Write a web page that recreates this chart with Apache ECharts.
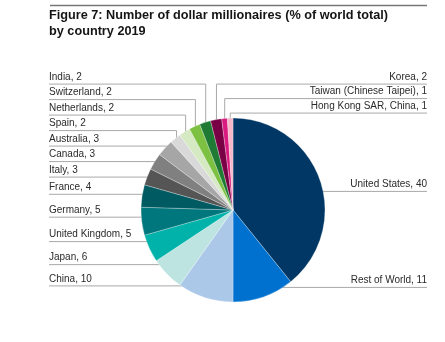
<!DOCTYPE html>
<html>
<head>
<meta charset="utf-8">
<script src="https://cdn.jsdelivr.net/npm/echarts@6/dist/echarts.min.js"></script>
<style>
  html, body { margin: 0; padding: 0; background: #ffffff; }
  #chart { width: 445px; height: 342px; }
</style>
</head>
<body>
<div id="chart"></div>
<script>
// Share of the world's dollar millionaires, 2019 (%), clockwise from 12 o'clock
const countries = [
  'United States', 'Rest of World', 'China', 'Japan', 'United Kingdom',
  'Germany', 'France', 'Italy', 'Canada', 'Australia', 'Spain',
  'Netherlands', 'Switzerland', 'India', 'Korea',
  'Taiwan (Chinese Taipei)', 'Hong Kong SAR, China'
];
const shares = [40, 11, 10, 6, 5, 5, 4, 3, 3, 3, 2, 2, 2, 2, 2, 1, 1];
const sliceColors = [
  '#003764', '#0071ce', '#abc8e8', '#bde4e1', '#00b2a9',
  '#00777c', '#005a62', '#555555', '#808080', '#a6a6a6', '#d9d9d9',
  '#d5e9c3', '#7cc142', '#1f7a34', '#7a0046', '#da1a7f', '#f6b8c9'
];

// Geometry of the pie and the two label columns
const CX = 233, CY = 210, R = 92;
const LEFT_X = 49, RIGHT_X = 427;
const ROW_GAP = 15.5, TOP_GAP = 14.5;

const total = shares.reduce((a, b) => a + b, 0);
const midAngles = [];
let acc = 0;
shares.forEach(v => { midAngles.push((acc + v / 2) / total * 360); acc += v; });

function polar(angleDeg, r) {
  const a = angleDeg * Math.PI / 180;
  return [CX + r * Math.sin(a), CY - r * Math.cos(a)];
}

// Which column each label goes to
const side = midAngles.map(a => a > 345 ? 'rightTop' : (a > 180 ? 'left' : 'right'));
const rows = new Array(shares.length);

// Left column: stack upward from the bottom slice, keeping a minimum gap
const leftIdx = shares.map((_, i) => i).filter(i => side[i] === 'left');
let prev = Infinity;
leftIdx.forEach(i => {
  const target = polar(midAngles[i], 0.9 * R)[1] - 3;
  const y = Math.min(target, prev - ROW_GAP);
  rows[i] = y;
  prev = y;
});
const topRow = Math.min(...leftIdx.map(i => rows[i]));

// Small slices near 12 o'clock: stacked down the right from the top row
shares.map((_, i) => i).filter(i => side[i] === 'rightTop')
  .forEach((i, k) => { rows[i] = topRow + k * TOP_GAP; });

// Big right-hand slices: label sits deeper inside the wider wedges
shares.map((_, i) => i).filter(i => side[i] === 'right')
  .forEach(i => { rows[i] = polar(midAngles[i], R * (1 - shares[i] / total))[1]; });

const pieData = countries.map((name, i) => ({
  name: name,
  value: shares[i],
  itemStyle: { color: sliceColors[i] }
}));

const chart = echarts.init(document.getElementById('chart'), null, { renderer: 'canvas' });

chart.setOption({
  animation: false,
  backgroundColor: '#ffffff',
  title: {
    text: 'Figure 7: Number of dollar millionaires (% of world total)\nby country 2019',
    left: 49,
    top: 7,
    padding: 0,
    textStyle: {
      fontFamily: 'Liberation Sans, Arial, sans-serif',
      fontSize: 12.7,
      fontWeight: 'bold',
      lineHeight: 16,
      color: '#151515'
    }
  },
  graphic: [{
    type: 'line',
    shape: { x1: 50, y1: 5.5, x2: 427, y2: 5.5 },
    style: { stroke: '#777777', lineWidth: 1.3 },
    silent: true
  }],
  series: [{
    type: 'pie',
    center: [CX, CY],
    radius: [0, R],
    startAngle: 90,
    clockwise: true,
    avoidLabelOverlap: false,
    data: pieData,
    itemStyle: { borderColor: 'rgba(255,255,255,0.55)', borderWidth: 0.5 },
    emphasis: { disabled: true },
    label: {
      show: true,
      position: 'outside',
      formatter: p => p.name + ', ' + p.value,
      fontFamily: 'Liberation Sans, Arial, sans-serif',
      fontSize: 10,
      color: '#2a2a2a'
    },
    labelLine: {
      show: true,
      length: 5,
      length2: 5,
      lineStyle: { color: '#a9a9a9', width: 1 }
    },
    labelLayout: function (params) {
      const i = params.dataIndex;
      const row = rows[i];
      const mid = midAngles[i];
      const onLeft = side[i] === 'left';
      const edgeX = onLeft ? LEFT_X : RIGHT_X;
      const edge = polar(mid, R);
      let pts;
      if (side[i] === 'rightTop' || row < edge[1] - 4) {
        // elbow: down from the row into the rim of the slice
        const tip = polar(mid, R - 2);
        pts = [[tip[0], tip[1]], [tip[0], row], [edgeX, row]];
      } else {
        // straight rule running into the slice
        const tip = polar(mid, (side[i] === 'right' ? 0.8 : 0.9) * R);
        pts = [[tip[0], row], [tip[0], row], [edgeX, row]];
      }
      return {
        x: edgeX,
        y: row - 2,
        align: onLeft ? 'left' : 'right',
        verticalAlign: 'bottom',
        labelLinePoints: pts
      };
    }
  }]
});
</script>
</body>
</html>
